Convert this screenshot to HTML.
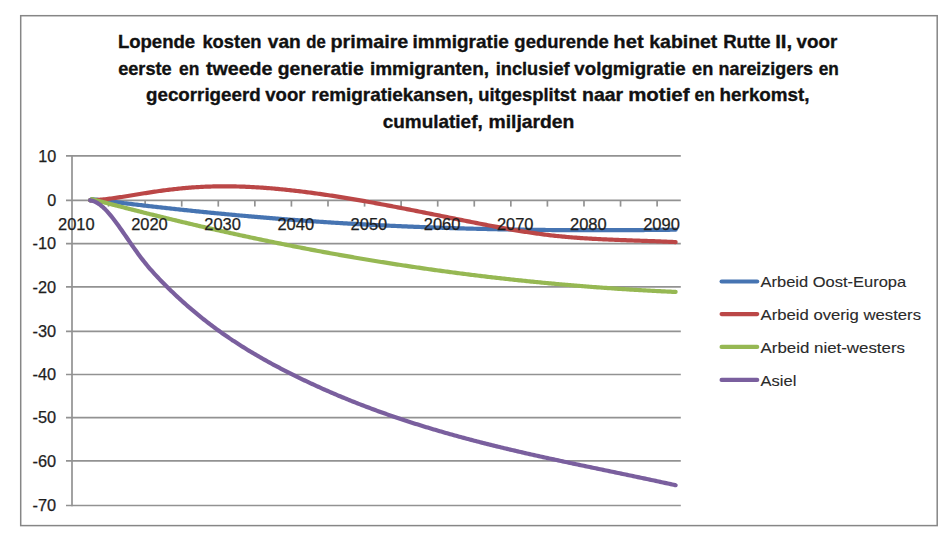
<!DOCTYPE html>
<html><head><meta charset="utf-8"><style>
html,body{margin:0;padding:0;background:#fff;width:952px;height:544px;overflow:hidden;}
svg{display:block;font-family:"Liberation Sans",sans-serif;}
</style></head><body>
<svg width="952" height="544" viewBox="0 0 952 544">
<rect x="20.7" y="15.7" width="916.5" height="509.9" fill="#fff" stroke="#868686" stroke-width="1.5"/>
<text x="117.89" y="48.2" font-family="Liberation Sans" font-weight="bold" font-size="19" fill="#111" stroke="#111" stroke-width="0.35" textLength="77.29" lengthAdjust="spacingAndGlyphs">Lopende</text>
<text x="202.4" y="48.2" font-family="Liberation Sans" font-weight="bold" font-size="19" fill="#111" stroke="#111" stroke-width="0.35" textLength="59.21" lengthAdjust="spacingAndGlyphs">kosten</text>
<text x="267.77" y="48.2" font-family="Liberation Sans" font-weight="bold" font-size="19" fill="#111" stroke="#111" stroke-width="0.35" textLength="32.97" lengthAdjust="spacingAndGlyphs">van</text>
<text x="306.37" y="48.2" font-family="Liberation Sans" font-weight="bold" font-size="19" fill="#111" stroke="#111" stroke-width="0.35" textLength="19.46" lengthAdjust="spacingAndGlyphs">de</text>
<text x="330.53" y="48.2" font-family="Liberation Sans" font-weight="bold" font-size="19" fill="#111" stroke="#111" stroke-width="0.35" textLength="77.79" lengthAdjust="spacingAndGlyphs">primaire</text>
<text x="412.57" y="48.2" font-family="Liberation Sans" font-weight="bold" font-size="19" fill="#111" stroke="#111" stroke-width="0.35" textLength="96.23" lengthAdjust="spacingAndGlyphs">immigratie</text>
<text x="514.37" y="48.2" font-family="Liberation Sans" font-weight="bold" font-size="19" fill="#111" stroke="#111" stroke-width="0.35" textLength="94.41" lengthAdjust="spacingAndGlyphs">gedurende</text>
<text x="613.31" y="48.2" font-family="Liberation Sans" font-weight="bold" font-size="19" fill="#111" stroke="#111" stroke-width="0.35" textLength="30.31" lengthAdjust="spacingAndGlyphs">het</text>
<text x="649.25" y="48.2" font-family="Liberation Sans" font-weight="bold" font-size="19" fill="#111" stroke="#111" stroke-width="0.35" textLength="68.09" lengthAdjust="spacingAndGlyphs">kabinet</text>
<text x="723.19" y="48.2" font-family="Liberation Sans" font-weight="bold" font-size="19" fill="#111" stroke="#111" stroke-width="0.35" textLength="47.49" lengthAdjust="spacingAndGlyphs">Rutte</text>
<text x="775.19" y="48.2" font-family="Liberation Sans" font-weight="bold" font-size="19" fill="#111" stroke="#111" stroke-width="0.35" textLength="17.04" lengthAdjust="spacingAndGlyphs">II,</text>
<text x="796.47" y="48.2" font-family="Liberation Sans" font-weight="bold" font-size="19" fill="#111" stroke="#111" stroke-width="0.35" textLength="40.76" lengthAdjust="spacingAndGlyphs">voor</text>
<text x="118.17" y="75.2" font-family="Liberation Sans" font-weight="bold" font-size="19" fill="#111" stroke="#111" stroke-width="0.35" textLength="53.5" lengthAdjust="spacingAndGlyphs">eerste</text>
<text x="179.07" y="75.2" font-family="Liberation Sans" font-weight="bold" font-size="19" fill="#111" stroke="#111" stroke-width="0.35" textLength="20.32" lengthAdjust="spacingAndGlyphs">en</text>
<text x="205.97" y="75.2" font-family="Liberation Sans" font-weight="bold" font-size="19" fill="#111" stroke="#111" stroke-width="0.35" textLength="66.55" lengthAdjust="spacingAndGlyphs">tweede</text>
<text x="277.77" y="75.2" font-family="Liberation Sans" font-weight="bold" font-size="19" fill="#111" stroke="#111" stroke-width="0.35" textLength="85.94" lengthAdjust="spacingAndGlyphs">generatie</text>
<text x="369.97" y="75.2" font-family="Liberation Sans" font-weight="bold" font-size="19" fill="#111" stroke="#111" stroke-width="0.35" textLength="119.04" lengthAdjust="spacingAndGlyphs">immigranten,</text>
<text x="495.71" y="75.2" font-family="Liberation Sans" font-weight="bold" font-size="19" fill="#111" stroke="#111" stroke-width="0.35" textLength="73.87" lengthAdjust="spacingAndGlyphs">inclusief</text>
<text x="574.37" y="75.2" font-family="Liberation Sans" font-weight="bold" font-size="19" fill="#111" stroke="#111" stroke-width="0.35" textLength="111.22" lengthAdjust="spacingAndGlyphs">volgmigratie</text>
<text x="692.07" y="75.2" font-family="Liberation Sans" font-weight="bold" font-size="19" fill="#111" stroke="#111" stroke-width="0.35" textLength="21.24" lengthAdjust="spacingAndGlyphs">en</text>
<text x="718.53" y="75.2" font-family="Liberation Sans" font-weight="bold" font-size="19" fill="#111" stroke="#111" stroke-width="0.35" textLength="94.54" lengthAdjust="spacingAndGlyphs">nareizigers</text>
<text x="818.77" y="75.2" font-family="Liberation Sans" font-weight="bold" font-size="19" fill="#111" stroke="#111" stroke-width="0.35" textLength="20.11" lengthAdjust="spacingAndGlyphs">en</text>
<text x="146.07" y="101.2" font-family="Liberation Sans" font-weight="bold" font-size="19" fill="#111" stroke="#111" stroke-width="0.35" textLength="114.56" lengthAdjust="spacingAndGlyphs">gecorrigeerd</text>
<text x="265.27" y="101.2" font-family="Liberation Sans" font-weight="bold" font-size="19" fill="#111" stroke="#111" stroke-width="0.35" textLength="40.27" lengthAdjust="spacingAndGlyphs">voor</text>
<text x="311.27" y="101.2" font-family="Liberation Sans" font-weight="bold" font-size="19" fill="#111" stroke="#111" stroke-width="0.35" textLength="161.93" lengthAdjust="spacingAndGlyphs">remigratiekansen,</text>
<text x="478.2" y="101.2" font-family="Liberation Sans" font-weight="bold" font-size="19" fill="#111" stroke="#111" stroke-width="0.35" textLength="97.98" lengthAdjust="spacingAndGlyphs">uitgesplitst</text>
<text x="582.04" y="101.2" font-family="Liberation Sans" font-weight="bold" font-size="19" fill="#111" stroke="#111" stroke-width="0.35" textLength="41.16" lengthAdjust="spacingAndGlyphs">naar</text>
<text x="628.19" y="101.2" font-family="Liberation Sans" font-weight="bold" font-size="19" fill="#111" stroke="#111" stroke-width="0.35" textLength="61.31" lengthAdjust="spacingAndGlyphs">motief</text>
<text x="694.57" y="101.2" font-family="Liberation Sans" font-weight="bold" font-size="19" fill="#111" stroke="#111" stroke-width="0.35" textLength="20.32" lengthAdjust="spacingAndGlyphs">en</text>
<text x="719.58" y="101.2" font-family="Liberation Sans" font-weight="bold" font-size="19" fill="#111" stroke="#111" stroke-width="0.35" textLength="90.03" lengthAdjust="spacingAndGlyphs">herkomst,</text>
<text x="382.77" y="127.8" font-family="Liberation Sans" font-weight="bold" font-size="19" fill="#111" stroke="#111" stroke-width="0.35" textLength="99.94" lengthAdjust="spacingAndGlyphs">cumulatief,</text>
<text x="488.45" y="127.8" font-family="Liberation Sans" font-weight="bold" font-size="19" fill="#111" stroke="#111" stroke-width="0.35" textLength="85.99" lengthAdjust="spacingAndGlyphs">miljarden</text>
<line x1="66" y1="155.90" x2="680.8" y2="155.90" stroke="#929292" stroke-width="1.7"/>
<line x1="66" y1="200.40" x2="680.8" y2="200.40" stroke="#929292" stroke-width="1.7"/>
<line x1="66" y1="243.70" x2="680.8" y2="243.70" stroke="#929292" stroke-width="1.7"/>
<line x1="66" y1="286.90" x2="680.8" y2="286.90" stroke="#929292" stroke-width="1.7"/>
<line x1="66" y1="331.40" x2="680.8" y2="331.40" stroke="#929292" stroke-width="1.7"/>
<line x1="66" y1="374.50" x2="680.8" y2="374.50" stroke="#929292" stroke-width="1.7"/>
<line x1="66" y1="417.70" x2="680.8" y2="417.70" stroke="#929292" stroke-width="1.7"/>
<line x1="66" y1="460.90" x2="680.8" y2="460.90" stroke="#929292" stroke-width="1.7"/>
<line x1="66" y1="505.50" x2="680.8" y2="505.50" stroke="#929292" stroke-width="1.7"/>
<line x1="72" y1="155.05" x2="72" y2="506.35" stroke="#929292" stroke-width="1.7"/>
<line x1="108.57" y1="200.40" x2="108.57" y2="206.60" stroke="#929292" stroke-width="1.7"/>
<line x1="145.14" y1="200.40" x2="145.14" y2="206.60" stroke="#929292" stroke-width="1.7"/>
<line x1="181.71" y1="200.40" x2="181.71" y2="206.60" stroke="#929292" stroke-width="1.7"/>
<line x1="218.28" y1="200.40" x2="218.28" y2="206.60" stroke="#929292" stroke-width="1.7"/>
<line x1="254.85" y1="200.40" x2="254.85" y2="206.60" stroke="#929292" stroke-width="1.7"/>
<line x1="291.42" y1="200.40" x2="291.42" y2="206.60" stroke="#929292" stroke-width="1.7"/>
<line x1="327.99" y1="200.40" x2="327.99" y2="206.60" stroke="#929292" stroke-width="1.7"/>
<line x1="364.56" y1="200.40" x2="364.56" y2="206.60" stroke="#929292" stroke-width="1.7"/>
<line x1="401.13" y1="200.40" x2="401.13" y2="206.60" stroke="#929292" stroke-width="1.7"/>
<line x1="437.70" y1="200.40" x2="437.70" y2="206.60" stroke="#929292" stroke-width="1.7"/>
<line x1="474.27" y1="200.40" x2="474.27" y2="206.60" stroke="#929292" stroke-width="1.7"/>
<line x1="510.84" y1="200.40" x2="510.84" y2="206.60" stroke="#929292" stroke-width="1.7"/>
<line x1="547.41" y1="200.40" x2="547.41" y2="206.60" stroke="#929292" stroke-width="1.7"/>
<line x1="583.98" y1="200.40" x2="583.98" y2="206.60" stroke="#929292" stroke-width="1.7"/>
<line x1="620.55" y1="200.40" x2="620.55" y2="206.60" stroke="#929292" stroke-width="1.7"/>
<line x1="657.12" y1="200.40" x2="657.12" y2="206.60" stroke="#929292" stroke-width="1.7"/>
<text x="56.2" y="161.65" text-anchor="end" font-family="Liberation Sans" font-size="15.6" fill="#1e1e1e" stroke="#1e1e1e" stroke-width="0.25" textLength="18.00" lengthAdjust="spacingAndGlyphs">10</text>
<text x="56.2" y="206.15" text-anchor="end" font-family="Liberation Sans" font-size="15.6" fill="#1e1e1e" stroke="#1e1e1e" stroke-width="0.25" textLength="9.00" lengthAdjust="spacingAndGlyphs">0</text>
<text x="56.2" y="249.45" text-anchor="end" font-family="Liberation Sans" font-size="15.6" fill="#1e1e1e" stroke="#1e1e1e" stroke-width="0.25" textLength="23.60" lengthAdjust="spacingAndGlyphs">-10</text>
<text x="56.2" y="292.65" text-anchor="end" font-family="Liberation Sans" font-size="15.6" fill="#1e1e1e" stroke="#1e1e1e" stroke-width="0.25" textLength="23.60" lengthAdjust="spacingAndGlyphs">-20</text>
<text x="56.2" y="337.15" text-anchor="end" font-family="Liberation Sans" font-size="15.6" fill="#1e1e1e" stroke="#1e1e1e" stroke-width="0.25" textLength="23.60" lengthAdjust="spacingAndGlyphs">-30</text>
<text x="56.2" y="380.25" text-anchor="end" font-family="Liberation Sans" font-size="15.6" fill="#1e1e1e" stroke="#1e1e1e" stroke-width="0.25" textLength="23.60" lengthAdjust="spacingAndGlyphs">-40</text>
<text x="56.2" y="423.45" text-anchor="end" font-family="Liberation Sans" font-size="15.6" fill="#1e1e1e" stroke="#1e1e1e" stroke-width="0.25" textLength="23.60" lengthAdjust="spacingAndGlyphs">-50</text>
<text x="56.2" y="466.65" text-anchor="end" font-family="Liberation Sans" font-size="15.6" fill="#1e1e1e" stroke="#1e1e1e" stroke-width="0.25" textLength="23.60" lengthAdjust="spacingAndGlyphs">-60</text>
<text x="56.2" y="511.25" text-anchor="end" font-family="Liberation Sans" font-size="15.6" fill="#1e1e1e" stroke="#1e1e1e" stroke-width="0.25" textLength="23.60" lengthAdjust="spacingAndGlyphs">-70</text>
<path d="M90.2,200.20 L91.7,199.11 L93.2,199.30 L94.7,199.49 L96.2,199.68 L97.7,199.88 L99.2,200.07 L100.7,200.26 L102.2,200.45 L103.7,200.64 L105.2,200.83 L106.7,201.01 L108.2,201.20 L109.7,201.39 L111.2,201.58 L112.7,201.76 L114.2,201.95 L115.7,202.13 L117.2,202.32 L118.7,202.50 L120.2,202.69 L121.7,202.87 L123.2,203.05 L124.7,203.23 L126.2,203.41 L127.7,203.59 L129.2,203.77 L130.7,203.95 L132.2,204.13 L133.7,204.31 L135.2,204.49 L136.7,204.67 L138.2,204.84 L139.7,205.02 L141.2,205.20 L142.7,205.37 L144.2,205.55 L145.7,205.72 L147.2,205.89 L148.7,206.07 L150.2,206.24 L151.7,206.41 L153.2,206.58 L154.7,206.75 L156.2,206.92 L157.7,207.09 L159.2,207.26 L160.7,207.43 L162.2,207.60 L163.7,207.76 L165.2,207.93 L166.7,208.10 L168.2,208.26 L169.7,208.43 L171.2,208.59 L172.7,208.75 L174.2,208.92 L175.7,209.08 L177.2,209.24 L178.7,209.40 L180.2,209.56 L181.7,209.72 L183.2,209.88 L184.7,210.04 L186.2,210.20 L187.7,210.36 L189.2,210.52 L190.7,210.67 L192.2,210.83 L193.7,210.98 L195.2,211.14 L196.7,211.29 L198.2,211.45 L199.7,211.60 L201.2,211.75 L202.7,211.90 L204.2,212.05 L205.7,212.20 L207.2,212.35 L208.7,212.50 L210.2,212.65 L211.7,212.80 L213.2,212.95 L214.7,213.09 L216.2,213.24 L217.7,213.38 L219.2,213.53 L220.7,213.67 L222.2,213.82 L223.7,213.96 L225.2,214.10 L226.7,214.24 L228.2,214.39 L229.7,214.53 L231.2,214.67 L232.7,214.81 L234.2,214.94 L235.7,215.08 L237.2,215.22 L238.7,215.36 L240.2,215.49 L241.7,215.63 L243.2,215.76 L244.7,215.90 L246.2,216.03 L247.7,216.16 L249.2,216.29 L250.7,216.43 L252.2,216.56 L253.7,216.69 L255.2,216.82 L256.7,216.95 L258.2,217.07 L259.7,217.20 L261.2,217.33 L262.7,217.45 L264.2,217.58 L265.7,217.71 L267.2,217.83 L268.7,217.95 L270.2,218.08 L271.7,218.20 L273.2,218.32 L274.7,218.44 L276.2,218.56 L277.7,218.68 L279.2,218.80 L280.7,218.92 L282.2,219.04 L283.7,219.15 L285.2,219.27 L286.7,219.39 L288.2,219.50 L289.7,219.62 L291.2,219.73 L292.7,219.84 L294.2,219.95 L295.7,220.07 L297.2,220.18 L298.7,220.29 L300.2,220.40 L301.7,220.51 L303.2,220.61 L304.7,220.72 L306.2,220.83 L307.7,220.93 L309.2,221.04 L310.7,221.14 L312.2,221.25 L313.7,221.35 L315.2,221.45 L316.7,221.56 L318.2,221.66 L319.7,221.76 L321.2,221.86 L322.7,221.96 L324.2,222.06 L325.7,222.15 L327.2,222.25 L328.7,222.35 L330.2,222.44 L331.7,222.54 L333.2,222.63 L334.7,222.73 L336.2,222.82 L337.7,222.91 L339.2,223.00 L340.7,223.10 L342.2,223.19 L343.7,223.28 L345.2,223.37 L346.7,223.45 L348.2,223.54 L349.7,223.63 L351.2,223.72 L352.7,223.80 L354.2,223.89 L355.7,223.97 L357.2,224.06 L358.7,224.14 L360.2,224.22 L361.7,224.30 L363.2,224.38 L364.7,224.47 L366.2,224.55 L367.7,224.62 L369.2,224.70 L370.7,224.78 L372.2,224.86 L373.7,224.94 L375.2,225.01 L376.7,225.09 L378.2,225.16 L379.7,225.24 L381.2,225.31 L382.7,225.39 L384.2,225.46 L385.7,225.53 L387.2,225.60 L388.7,225.67 L390.2,225.74 L391.7,225.81 L393.2,225.88 L394.7,225.95 L396.2,226.02 L397.7,226.08 L399.2,226.15 L400.7,226.22 L402.2,226.28 L403.7,226.35 L405.2,226.41 L406.7,226.47 L408.2,226.54 L409.7,226.60 L411.2,226.66 L412.7,226.72 L414.2,226.78 L415.7,226.84 L417.2,226.90 L418.7,226.96 L420.2,227.02 L421.7,227.08 L423.2,227.13 L424.7,227.19 L426.2,227.24 L427.7,227.30 L429.2,227.35 L430.7,227.41 L432.2,227.46 L433.7,227.52 L435.2,227.57 L436.7,227.62 L438.2,227.67 L439.7,227.72 L441.2,227.77 L442.7,227.82 L444.2,227.87 L445.7,227.92 L447.2,227.97 L448.7,228.01 L450.2,228.06 L451.7,228.11 L453.2,228.15 L454.7,228.20 L456.2,228.24 L457.7,228.29 L459.2,228.33 L460.7,228.37 L462.2,228.42 L463.7,228.46 L465.2,228.50 L466.7,228.54 L468.2,228.58 L469.7,228.62 L471.2,228.66 L472.7,228.70 L474.2,228.74 L475.7,228.77 L477.2,228.81 L478.7,228.85 L480.2,228.88 L481.7,228.92 L483.2,228.95 L484.7,228.99 L486.2,229.02 L487.7,229.06 L489.2,229.09 L490.7,229.12 L492.2,229.15 L493.7,229.19 L495.2,229.22 L496.7,229.25 L498.2,229.28 L499.7,229.31 L501.2,229.34 L502.7,229.36 L504.2,229.39 L505.7,229.42 L507.2,229.45 L508.7,229.47 L510.2,229.50 L511.7,229.52 L513.2,229.55 L514.7,229.57 L516.2,229.60 L517.7,229.62 L519.2,229.64 L520.7,229.67 L522.2,229.69 L523.7,229.71 L525.2,229.73 L526.7,229.75 L528.2,229.77 L529.7,229.79 L531.2,229.81 L532.7,229.83 L534.2,229.85 L535.7,229.87 L537.2,229.88 L538.7,229.90 L540.2,229.92 L541.7,229.93 L543.2,229.95 L544.7,229.96 L546.2,229.98 L547.7,229.99 L549.2,230.01 L550.7,230.02 L552.2,230.03 L553.7,230.05 L555.2,230.06 L556.7,230.07 L558.2,230.08 L559.7,230.09 L561.2,230.10 L562.7,230.11 L564.2,230.12 L565.7,230.13 L567.2,230.14 L568.7,230.15 L570.2,230.15 L571.7,230.16 L573.2,230.17 L574.7,230.17 L576.2,230.18 L577.7,230.18 L579.2,230.19 L580.7,230.19 L582.2,230.20 L583.7,230.20 L585.2,230.21 L586.7,230.21 L588.2,230.21 L589.7,230.21 L591.2,230.21 L592.7,230.22 L594.2,230.22 L595.7,230.22 L597.2,230.22 L598.7,230.22 L600.2,230.22 L601.7,230.22 L603.2,230.21 L604.7,230.21 L606.2,230.21 L607.7,230.21 L609.2,230.20 L610.7,230.20 L612.2,230.20 L613.7,230.19 L615.2,230.19 L616.7,230.18 L618.2,230.18 L619.7,230.17 L621.2,230.17 L622.7,230.16 L624.2,230.15 L625.7,230.15 L627.2,230.14 L628.7,230.13 L630.2,230.12 L631.7,230.11 L633.2,230.10 L634.7,230.09 L636.2,230.08 L637.7,230.07 L639.2,230.06 L640.7,230.05 L642.2,230.04 L643.7,230.03 L645.2,230.02 L646.7,230.01 L648.2,229.99 L649.7,229.98 L651.2,229.97 L652.7,229.95 L654.2,229.94 L655.7,229.92 L657.2,229.91 L658.7,229.89 L660.2,229.88 L661.7,229.86 L663.2,229.85 L664.7,229.83 L666.2,229.81 L667.7,229.80 L669.2,229.78 L670.7,229.76 L672.2,229.74 L673.7,229.73 L675.2,229.71 L675.6,229.70" fill="none" stroke="#4674b2" stroke-width="4.2" stroke-linecap="round" stroke-linejoin="round"/>
<path d="M90.2,200.20 L91.7,200.38 L93.2,200.29 L94.7,200.19 L96.2,200.08 L97.7,199.96 L99.2,199.83 L100.7,199.70 L102.2,199.55 L103.7,199.39 L105.2,199.22 L106.7,199.05 L108.2,198.87 L109.7,198.68 L111.2,198.49 L112.7,198.29 L114.2,198.08 L115.7,197.87 L117.2,197.65 L118.7,197.43 L120.2,197.20 L121.7,196.97 L123.2,196.74 L124.7,196.50 L126.2,196.26 L127.7,196.02 L129.2,195.77 L130.7,195.52 L132.2,195.28 L133.7,195.03 L135.2,194.78 L136.7,194.53 L138.2,194.28 L139.7,194.04 L141.2,193.79 L142.7,193.55 L144.2,193.30 L145.7,193.06 L147.2,192.82 L148.7,192.59 L150.2,192.36 L151.7,192.13 L153.2,191.90 L154.7,191.68 L156.2,191.46 L157.7,191.25 L159.2,191.04 L160.7,190.83 L162.2,190.62 L163.7,190.42 L165.2,190.23 L166.7,190.03 L168.2,189.84 L169.7,189.66 L171.2,189.48 L172.7,189.30 L174.2,189.13 L175.7,188.97 L177.2,188.80 L178.7,188.65 L180.2,188.49 L181.7,188.34 L183.2,188.20 L184.7,188.06 L186.2,187.93 L187.7,187.80 L189.2,187.68 L190.7,187.56 L192.2,187.45 L193.7,187.35 L195.2,187.25 L196.7,187.15 L198.2,187.06 L199.7,186.98 L201.2,186.90 L202.7,186.83 L204.2,186.76 L205.7,186.69 L207.2,186.64 L208.7,186.58 L210.2,186.53 L211.7,186.49 L213.2,186.45 L214.7,186.42 L216.2,186.39 L217.7,186.37 L219.2,186.35 L220.7,186.33 L222.2,186.32 L223.7,186.32 L225.2,186.32 L226.7,186.32 L228.2,186.33 L229.7,186.35 L231.2,186.37 L232.7,186.39 L234.2,186.42 L235.7,186.45 L237.2,186.48 L238.7,186.52 L240.2,186.57 L241.7,186.61 L243.2,186.67 L244.7,186.72 L246.2,186.78 L247.7,186.85 L249.2,186.92 L250.7,186.99 L252.2,187.07 L253.7,187.15 L255.2,187.23 L256.7,187.32 L258.2,187.41 L259.7,187.51 L261.2,187.61 L262.7,187.71 L264.2,187.82 L265.7,187.93 L267.2,188.04 L268.7,188.16 L270.2,188.28 L271.7,188.40 L273.2,188.53 L274.7,188.66 L276.2,188.79 L277.7,188.93 L279.2,189.07 L280.7,189.22 L282.2,189.36 L283.7,189.51 L285.2,189.67 L286.7,189.82 L288.2,189.98 L289.7,190.14 L291.2,190.31 L292.7,190.47 L294.2,190.64 L295.7,190.82 L297.2,190.99 L298.7,191.17 L300.2,191.35 L301.7,191.54 L303.2,191.72 L304.7,191.91 L306.2,192.10 L307.7,192.30 L309.2,192.49 L310.7,192.69 L312.2,192.89 L313.7,193.10 L315.2,193.30 L316.7,193.51 L318.2,193.72 L319.7,193.93 L321.2,194.15 L322.7,194.36 L324.2,194.58 L325.7,194.80 L327.2,195.02 L328.7,195.25 L330.2,195.48 L331.7,195.70 L333.2,195.93 L334.7,196.17 L336.2,196.40 L337.7,196.64 L339.2,196.88 L340.7,197.12 L342.2,197.36 L343.7,197.60 L345.2,197.85 L346.7,198.09 L348.2,198.34 L349.7,198.59 L351.2,198.85 L352.7,199.10 L354.2,199.36 L355.7,199.61 L357.2,199.87 L358.7,200.13 L360.2,200.39 L361.7,200.65 L363.2,200.92 L364.7,201.18 L366.2,201.45 L367.7,201.72 L369.2,201.99 L370.7,202.26 L372.2,202.53 L373.7,202.81 L375.2,203.08 L376.7,203.36 L378.2,203.63 L379.7,203.91 L381.2,204.19 L382.7,204.47 L384.2,204.75 L385.7,205.04 L387.2,205.32 L388.7,205.60 L390.2,205.89 L391.7,206.18 L393.2,206.46 L394.7,206.75 L396.2,207.04 L397.7,207.33 L399.2,207.62 L400.7,207.91 L402.2,208.20 L403.7,208.50 L405.2,208.79 L406.7,209.08 L408.2,209.38 L409.7,209.67 L411.2,209.97 L412.7,210.27 L414.2,210.56 L415.7,210.86 L417.2,211.16 L418.7,211.46 L420.2,211.76 L421.7,212.05 L423.2,212.35 L424.7,212.65 L426.2,212.95 L427.7,213.25 L429.2,213.55 L430.7,213.86 L432.2,214.16 L433.7,214.46 L435.2,214.76 L436.7,215.06 L438.2,215.36 L439.7,215.66 L441.2,215.97 L442.7,216.27 L444.2,216.57 L445.7,216.87 L447.2,217.17 L448.7,217.47 L450.2,217.78 L451.7,218.08 L453.2,218.38 L454.7,218.68 L456.2,218.98 L457.7,219.28 L459.2,219.58 L460.7,219.88 L462.2,220.18 L463.7,220.48 L465.2,220.78 L466.7,221.08 L468.2,221.37 L469.7,221.67 L471.2,221.97 L472.7,222.26 L474.2,222.56 L475.7,222.86 L477.2,223.15 L478.7,223.44 L480.2,223.74 L481.7,224.03 L483.2,224.32 L484.7,224.61 L486.2,224.90 L487.7,225.19 L489.2,225.48 L490.7,225.76 L492.2,226.05 L493.7,226.33 L495.2,226.61 L496.7,226.89 L498.2,227.17 L499.7,227.44 L501.2,227.72 L502.7,227.99 L504.2,228.26 L505.7,228.53 L507.2,228.80 L508.7,229.06 L510.2,229.32 L511.7,229.58 L513.2,229.84 L514.7,230.10 L516.2,230.35 L517.7,230.60 L519.2,230.85 L520.7,231.09 L522.2,231.33 L523.7,231.57 L525.2,231.81 L526.7,232.04 L528.2,232.27 L529.7,232.50 L531.2,232.72 L532.7,232.94 L534.2,233.16 L535.7,233.37 L537.2,233.58 L538.7,233.79 L540.2,233.99 L541.7,234.19 L543.2,234.39 L544.7,234.58 L546.2,234.77 L547.7,234.95 L549.2,235.13 L550.7,235.31 L552.2,235.48 L553.7,235.64 L555.2,235.81 L556.7,235.97 L558.2,236.12 L559.7,236.27 L561.2,236.42 L562.7,236.57 L564.2,236.71 L565.7,236.84 L567.2,236.98 L568.7,237.11 L570.2,237.23 L571.7,237.36 L573.2,237.48 L574.7,237.59 L576.2,237.71 L577.7,237.82 L579.2,237.93 L580.7,238.03 L582.2,238.13 L583.7,238.23 L585.2,238.33 L586.7,238.42 L588.2,238.52 L589.7,238.61 L591.2,238.69 L592.7,238.78 L594.2,238.86 L595.7,238.94 L597.2,239.02 L598.7,239.10 L600.2,239.17 L601.7,239.25 L603.2,239.32 L604.7,239.39 L606.2,239.45 L607.7,239.52 L609.2,239.59 L610.7,239.65 L612.2,239.71 L613.7,239.77 L615.2,239.83 L616.7,239.89 L618.2,239.95 L619.7,240.00 L621.2,240.06 L622.7,240.12 L624.2,240.17 L625.7,240.22 L627.2,240.28 L628.7,240.33 L630.2,240.38 L631.7,240.43 L633.2,240.48 L634.7,240.53 L636.2,240.58 L637.7,240.63 L639.2,240.68 L640.7,240.74 L642.2,240.79 L643.7,240.84 L645.2,240.89 L646.7,240.94 L648.2,240.99 L649.7,241.04 L651.2,241.10 L652.7,241.15 L654.2,241.20 L655.7,241.26 L657.2,241.31 L658.7,241.37 L660.2,241.43 L661.7,241.49 L663.2,241.55 L664.7,241.61 L666.2,241.67 L667.7,241.73 L669.2,241.80 L670.7,241.86 L672.2,241.93 L673.7,242.00 L675.2,242.07 L675.6,242.09" fill="none" stroke="#bb4747" stroke-width="4.2" stroke-linecap="round" stroke-linejoin="round"/>
<path d="M90.2,200.20 L91.7,199.06 L93.2,199.46 L94.7,199.86 L96.2,200.26 L97.7,200.66 L99.2,201.06 L100.7,201.46 L102.2,201.85 L103.7,202.25 L105.2,202.64 L106.7,203.04 L108.2,203.43 L109.7,203.82 L111.2,204.22 L112.7,204.61 L114.2,205.00 L115.7,205.39 L117.2,205.78 L118.7,206.17 L120.2,206.56 L121.7,206.94 L123.2,207.33 L124.7,207.72 L126.2,208.10 L127.7,208.49 L129.2,208.87 L130.7,209.25 L132.2,209.63 L133.7,210.02 L135.2,210.40 L136.7,210.78 L138.2,211.16 L139.7,211.54 L141.2,211.91 L142.7,212.29 L144.2,212.67 L145.7,213.04 L147.2,213.42 L148.7,213.79 L150.2,214.17 L151.7,214.54 L153.2,214.91 L154.7,215.28 L156.2,215.66 L157.7,216.03 L159.2,216.39 L160.7,216.76 L162.2,217.13 L163.7,217.50 L165.2,217.86 L166.7,218.23 L168.2,218.59 L169.7,218.96 L171.2,219.32 L172.7,219.68 L174.2,220.05 L175.7,220.41 L177.2,220.77 L178.7,221.13 L180.2,221.49 L181.7,221.84 L183.2,222.20 L184.7,222.56 L186.2,222.91 L187.7,223.27 L189.2,223.62 L190.7,223.97 L192.2,224.33 L193.7,224.68 L195.2,225.03 L196.7,225.38 L198.2,225.73 L199.7,226.08 L201.2,226.43 L202.7,226.77 L204.2,227.12 L205.7,227.46 L207.2,227.81 L208.7,228.15 L210.2,228.50 L211.7,228.84 L213.2,229.18 L214.7,229.52 L216.2,229.86 L217.7,230.20 L219.2,230.54 L220.7,230.87 L222.2,231.21 L223.7,231.55 L225.2,231.88 L226.7,232.22 L228.2,232.55 L229.7,232.88 L231.2,233.21 L232.7,233.54 L234.2,233.87 L235.7,234.20 L237.2,234.53 L238.7,234.86 L240.2,235.19 L241.7,235.51 L243.2,235.84 L244.7,236.16 L246.2,236.48 L247.7,236.81 L249.2,237.13 L250.7,237.45 L252.2,237.77 L253.7,238.09 L255.2,238.41 L256.7,238.72 L258.2,239.04 L259.7,239.36 L261.2,239.67 L262.7,239.98 L264.2,240.30 L265.7,240.61 L267.2,240.92 L268.7,241.23 L270.2,241.54 L271.7,241.85 L273.2,242.16 L274.7,242.46 L276.2,242.77 L277.7,243.08 L279.2,243.38 L280.7,243.68 L282.2,243.99 L283.7,244.29 L285.2,244.59 L286.7,244.89 L288.2,245.19 L289.7,245.49 L291.2,245.78 L292.7,246.08 L294.2,246.38 L295.7,246.67 L297.2,246.96 L298.7,247.26 L300.2,247.55 L301.7,247.84 L303.2,248.13 L304.7,248.42 L306.2,248.71 L307.7,249.00 L309.2,249.28 L310.7,249.57 L312.2,249.85 L313.7,250.14 L315.2,250.42 L316.7,250.70 L318.2,250.98 L319.7,251.26 L321.2,251.54 L322.7,251.82 L324.2,252.10 L325.7,252.37 L327.2,252.65 L328.7,252.92 L330.2,253.20 L331.7,253.47 L333.2,253.74 L334.7,254.01 L336.2,254.28 L337.7,254.55 L339.2,254.82 L340.7,255.09 L342.2,255.35 L343.7,255.62 L345.2,255.88 L346.7,256.14 L348.2,256.41 L349.7,256.67 L351.2,256.93 L352.7,257.19 L354.2,257.45 L355.7,257.71 L357.2,257.96 L358.7,258.22 L360.2,258.47 L361.7,258.73 L363.2,258.98 L364.7,259.23 L366.2,259.48 L367.7,259.73 L369.2,259.98 L370.7,260.23 L372.2,260.48 L373.7,260.73 L375.2,260.97 L376.7,261.22 L378.2,261.46 L379.7,261.70 L381.2,261.95 L382.7,262.19 L384.2,262.43 L385.7,262.67 L387.2,262.91 L388.7,263.14 L390.2,263.38 L391.7,263.62 L393.2,263.85 L394.7,264.08 L396.2,264.32 L397.7,264.55 L399.2,264.78 L400.7,265.01 L402.2,265.24 L403.7,265.47 L405.2,265.69 L406.7,265.92 L408.2,266.15 L409.7,266.37 L411.2,266.59 L412.7,266.82 L414.2,267.04 L415.7,267.26 L417.2,267.48 L418.7,267.70 L420.2,267.92 L421.7,268.13 L423.2,268.35 L424.7,268.57 L426.2,268.78 L427.7,268.99 L429.2,269.21 L430.7,269.42 L432.2,269.63 L433.7,269.84 L435.2,270.05 L436.7,270.26 L438.2,270.46 L439.7,270.67 L441.2,270.88 L442.7,271.08 L444.2,271.28 L445.7,271.49 L447.2,271.69 L448.7,271.89 L450.2,272.09 L451.7,272.29 L453.2,272.49 L454.7,272.68 L456.2,272.88 L457.7,273.08 L459.2,273.27 L460.7,273.46 L462.2,273.66 L463.7,273.85 L465.2,274.04 L466.7,274.23 L468.2,274.42 L469.7,274.61 L471.2,274.79 L472.7,274.98 L474.2,275.16 L475.7,275.35 L477.2,275.53 L478.7,275.72 L480.2,275.90 L481.7,276.08 L483.2,276.26 L484.7,276.44 L486.2,276.62 L487.7,276.79 L489.2,276.97 L490.7,277.14 L492.2,277.32 L493.7,277.49 L495.2,277.67 L496.7,277.84 L498.2,278.01 L499.7,278.18 L501.2,278.35 L502.7,278.52 L504.2,278.68 L505.7,278.85 L507.2,279.01 L508.7,279.18 L510.2,279.34 L511.7,279.51 L513.2,279.67 L514.7,279.83 L516.2,279.99 L517.7,280.15 L519.2,280.31 L520.7,280.46 L522.2,280.62 L523.7,280.78 L525.2,280.93 L526.7,281.08 L528.2,281.24 L529.7,281.39 L531.2,281.54 L532.7,281.69 L534.2,281.84 L535.7,281.99 L537.2,282.14 L538.7,282.28 L540.2,282.43 L541.7,282.57 L543.2,282.72 L544.7,282.86 L546.2,283.00 L547.7,283.14 L549.2,283.29 L550.7,283.42 L552.2,283.56 L553.7,283.70 L555.2,283.84 L556.7,283.97 L558.2,284.11 L559.7,284.24 L561.2,284.38 L562.7,284.51 L564.2,284.64 L565.7,284.77 L567.2,284.90 L568.7,285.03 L570.2,285.16 L571.7,285.28 L573.2,285.41 L574.7,285.54 L576.2,285.66 L577.7,285.78 L579.2,285.91 L580.7,286.03 L582.2,286.15 L583.7,286.27 L585.2,286.39 L586.7,286.51 L588.2,286.62 L589.7,286.74 L591.2,286.86 L592.7,286.97 L594.2,287.08 L595.7,287.20 L597.2,287.31 L598.7,287.42 L600.2,287.53 L601.7,287.64 L603.2,287.75 L604.7,287.86 L606.2,287.96 L607.7,288.07 L609.2,288.17 L610.7,288.28 L612.2,288.38 L613.7,288.48 L615.2,288.58 L616.7,288.69 L618.2,288.78 L619.7,288.88 L621.2,288.98 L622.7,289.08 L624.2,289.17 L625.7,289.27 L627.2,289.36 L628.7,289.46 L630.2,289.55 L631.7,289.64 L633.2,289.73 L634.7,289.82 L636.2,289.91 L637.7,290.00 L639.2,290.09 L640.7,290.17 L642.2,290.26 L643.7,290.34 L645.2,290.43 L646.7,290.51 L648.2,290.59 L649.7,290.68 L651.2,290.76 L652.7,290.83 L654.2,290.91 L655.7,290.99 L657.2,291.07 L658.7,291.14 L660.2,291.22 L661.7,291.29 L663.2,291.37 L664.7,291.44 L666.2,291.51 L667.7,291.58 L669.2,291.65 L670.7,291.72 L672.2,291.79 L673.7,291.86 L675.2,291.92 L675.6,291.94" fill="none" stroke="#96b853" stroke-width="4.2" stroke-linecap="round" stroke-linejoin="round"/>
<path d="M90.2,200.20 L91.7,200.65 L93.2,201.05 L94.7,201.61 L96.2,202.32 L97.7,203.18 L99.2,204.17 L100.7,205.29 L102.2,206.54 L103.7,207.89 L105.2,209.35 L106.7,210.92 L108.2,212.57 L109.7,214.30 L111.2,216.12 L112.7,218.00 L114.2,219.94 L115.7,221.94 L117.2,223.98 L118.7,226.06 L120.2,228.18 L121.7,230.32 L123.2,232.47 L124.7,234.64 L126.2,236.81 L127.7,238.99 L129.2,241.16 L130.7,243.33 L132.2,245.48 L133.7,247.63 L135.2,249.75 L136.7,251.84 L138.2,253.91 L139.7,255.94 L141.2,257.94 L142.7,259.89 L144.2,261.80 L145.7,263.67 L147.2,265.49 L148.7,267.28 L150.2,269.02 L151.7,270.73 L153.2,272.41 L154.7,274.06 L156.2,275.69 L157.7,277.29 L159.2,278.86 L160.7,280.42 L162.2,281.96 L163.7,283.49 L165.2,285.00 L166.7,286.50 L168.2,287.98 L169.7,289.45 L171.2,290.91 L172.7,292.35 L174.2,293.78 L175.7,295.20 L177.2,296.60 L178.7,298.00 L180.2,299.37 L181.7,300.74 L183.2,302.09 L184.7,303.43 L186.2,304.76 L187.7,306.07 L189.2,307.37 L190.7,308.66 L192.2,309.94 L193.7,311.21 L195.2,312.46 L196.7,313.71 L198.2,314.94 L199.7,316.16 L201.2,317.37 L202.7,318.57 L204.2,319.75 L205.7,320.93 L207.2,322.10 L208.7,323.25 L210.2,324.39 L211.7,325.53 L213.2,326.65 L214.7,327.77 L216.2,328.87 L217.7,329.96 L219.2,331.05 L220.7,332.12 L222.2,333.18 L223.7,334.24 L225.2,335.28 L226.7,336.32 L228.2,337.35 L229.7,338.37 L231.2,339.38 L232.7,340.38 L234.2,341.37 L235.7,342.35 L237.2,343.33 L238.7,344.30 L240.2,345.25 L241.7,346.21 L243.2,347.15 L244.7,348.08 L246.2,349.01 L247.7,349.93 L249.2,350.84 L250.7,351.75 L252.2,352.65 L253.7,353.54 L255.2,354.42 L256.7,355.30 L258.2,356.17 L259.7,357.04 L261.2,357.89 L262.7,358.75 L264.2,359.59 L265.7,360.43 L267.2,361.26 L268.7,362.09 L270.2,362.91 L271.7,363.73 L273.2,364.54 L274.7,365.35 L276.2,366.15 L277.7,366.94 L279.2,367.73 L280.7,368.52 L282.2,369.30 L283.7,370.07 L285.2,370.84 L286.7,371.61 L288.2,372.37 L289.7,373.13 L291.2,373.89 L292.7,374.64 L294.2,375.38 L295.7,376.12 L297.2,376.86 L298.7,377.60 L300.2,378.33 L301.7,379.05 L303.2,379.77 L304.7,380.49 L306.2,381.20 L307.7,381.91 L309.2,382.62 L310.7,383.32 L312.2,384.02 L313.7,384.71 L315.2,385.40 L316.7,386.09 L318.2,386.77 L319.7,387.45 L321.2,388.13 L322.7,388.80 L324.2,389.46 L325.7,390.13 L327.2,390.79 L328.7,391.44 L330.2,392.10 L331.7,392.75 L333.2,393.39 L334.7,394.03 L336.2,394.67 L337.7,395.31 L339.2,395.94 L340.7,396.56 L342.2,397.19 L343.7,397.81 L345.2,398.43 L346.7,399.04 L348.2,399.65 L349.7,400.26 L351.2,400.86 L352.7,401.46 L354.2,402.06 L355.7,402.65 L357.2,403.24 L358.7,403.83 L360.2,404.41 L361.7,404.99 L363.2,405.57 L364.7,406.14 L366.2,406.71 L367.7,407.28 L369.2,407.84 L370.7,408.40 L372.2,408.96 L373.7,409.52 L375.2,410.07 L376.7,410.62 L378.2,411.16 L379.7,411.71 L381.2,412.25 L382.7,412.78 L384.2,413.32 L385.7,413.85 L387.2,414.38 L388.7,414.90 L390.2,415.42 L391.7,415.94 L393.2,416.46 L394.7,416.97 L396.2,417.48 L397.7,417.99 L399.2,418.50 L400.7,419.00 L402.2,419.50 L403.7,420.00 L405.2,420.49 L406.7,420.98 L408.2,421.47 L409.7,421.96 L411.2,422.44 L412.7,422.92 L414.2,423.40 L415.7,423.88 L417.2,424.35 L418.7,424.82 L420.2,425.29 L421.7,425.76 L423.2,426.22 L424.7,426.68 L426.2,427.14 L427.7,427.60 L429.2,428.05 L430.7,428.50 L432.2,428.95 L433.7,429.40 L435.2,429.85 L436.7,430.29 L438.2,430.73 L439.7,431.17 L441.2,431.60 L442.7,432.04 L444.2,432.47 L445.7,432.90 L447.2,433.32 L448.7,433.75 L450.2,434.17 L451.7,434.59 L453.2,435.01 L454.7,435.43 L456.2,435.84 L457.7,436.26 L459.2,436.67 L460.7,437.08 L462.2,437.48 L463.7,437.89 L465.2,438.29 L466.7,438.69 L468.2,439.09 L469.7,439.49 L471.2,439.89 L472.7,440.28 L474.2,440.67 L475.7,441.06 L477.2,441.45 L478.7,441.84 L480.2,442.22 L481.7,442.61 L483.2,442.99 L484.7,443.37 L486.2,443.75 L487.7,444.12 L489.2,444.50 L490.7,444.87 L492.2,445.25 L493.7,445.62 L495.2,445.99 L496.7,446.35 L498.2,446.72 L499.7,447.08 L501.2,447.45 L502.7,447.81 L504.2,448.17 L505.7,448.53 L507.2,448.89 L508.7,449.24 L510.2,449.60 L511.7,449.95 L513.2,450.31 L514.7,450.66 L516.2,451.01 L517.7,451.36 L519.2,451.70 L520.7,452.05 L522.2,452.40 L523.7,452.74 L525.2,453.08 L526.7,453.43 L528.2,453.77 L529.7,454.11 L531.2,454.45 L532.7,454.78 L534.2,455.12 L535.7,455.46 L537.2,455.79 L538.7,456.13 L540.2,456.46 L541.7,456.79 L543.2,457.12 L544.7,457.45 L546.2,457.78 L547.7,458.11 L549.2,458.44 L550.7,458.77 L552.2,459.09 L553.7,459.42 L555.2,459.74 L556.7,460.07 L558.2,460.39 L559.7,460.71 L561.2,461.04 L562.7,461.36 L564.2,461.68 L565.7,462.00 L567.2,462.32 L568.7,462.64 L570.2,462.96 L571.7,463.28 L573.2,463.59 L574.7,463.91 L576.2,464.23 L577.7,464.54 L579.2,464.86 L580.7,465.18 L582.2,465.49 L583.7,465.81 L585.2,466.12 L586.7,466.44 L588.2,466.75 L589.7,467.06 L591.2,467.38 L592.7,467.69 L594.2,468.00 L595.7,468.32 L597.2,468.63 L598.7,468.94 L600.2,469.25 L601.7,469.57 L603.2,469.88 L604.7,470.19 L606.2,470.50 L607.7,470.81 L609.2,471.13 L610.7,471.44 L612.2,471.75 L613.7,472.06 L615.2,472.37 L616.7,472.69 L618.2,473.00 L619.7,473.31 L621.2,473.62 L622.7,473.94 L624.2,474.25 L625.7,474.56 L627.2,474.87 L628.7,475.19 L630.2,475.50 L631.7,475.82 L633.2,476.13 L634.7,476.44 L636.2,476.76 L637.7,477.07 L639.2,477.39 L640.7,477.71 L642.2,478.02 L643.7,478.34 L645.2,478.66 L646.7,478.98 L648.2,479.29 L649.7,479.61 L651.2,479.93 L652.7,480.25 L654.2,480.57 L655.7,480.89 L657.2,481.21 L658.7,481.54 L660.2,481.86 L661.7,482.18 L663.2,482.51 L664.7,482.83 L666.2,483.16 L667.7,483.49 L669.2,483.81 L670.7,484.14 L672.2,484.47 L673.7,484.80 L675.2,485.13 L675.6,485.22" fill="none" stroke="#7a5f9e" stroke-width="4.2" stroke-linecap="round" stroke-linejoin="round"/>
<text x="76.30" y="229.9" text-anchor="middle" font-family="Liberation Sans" font-size="16" fill="#1e1e1e" stroke="#1e1e1e" stroke-width="0.25" textLength="36.6" lengthAdjust="spacingAndGlyphs">2010</text>
<text x="149.45" y="229.9" text-anchor="middle" font-family="Liberation Sans" font-size="16" fill="#1e1e1e" stroke="#1e1e1e" stroke-width="0.25" textLength="36.6" lengthAdjust="spacingAndGlyphs">2020</text>
<text x="222.60" y="229.9" text-anchor="middle" font-family="Liberation Sans" font-size="16" fill="#1e1e1e" stroke="#1e1e1e" stroke-width="0.25" textLength="36.6" lengthAdjust="spacingAndGlyphs">2030</text>
<text x="295.75" y="229.9" text-anchor="middle" font-family="Liberation Sans" font-size="16" fill="#1e1e1e" stroke="#1e1e1e" stroke-width="0.25" textLength="36.6" lengthAdjust="spacingAndGlyphs">2040</text>
<text x="368.90" y="229.9" text-anchor="middle" font-family="Liberation Sans" font-size="16" fill="#1e1e1e" stroke="#1e1e1e" stroke-width="0.25" textLength="36.6" lengthAdjust="spacingAndGlyphs">2050</text>
<text x="442.05" y="229.9" text-anchor="middle" font-family="Liberation Sans" font-size="16" fill="#1e1e1e" stroke="#1e1e1e" stroke-width="0.25" textLength="36.6" lengthAdjust="spacingAndGlyphs">2060</text>
<text x="515.20" y="229.9" text-anchor="middle" font-family="Liberation Sans" font-size="16" fill="#1e1e1e" stroke="#1e1e1e" stroke-width="0.25" textLength="36.6" lengthAdjust="spacingAndGlyphs">2070</text>
<text x="588.35" y="229.9" text-anchor="middle" font-family="Liberation Sans" font-size="16" fill="#1e1e1e" stroke="#1e1e1e" stroke-width="0.25" textLength="36.6" lengthAdjust="spacingAndGlyphs">2080</text>
<text x="661.50" y="229.9" text-anchor="middle" font-family="Liberation Sans" font-size="16" fill="#1e1e1e" stroke="#1e1e1e" stroke-width="0.25" textLength="36.6" lengthAdjust="spacingAndGlyphs">2090</text>
<line x1="721.6" y1="281.5" x2="757.2" y2="281.5" stroke="#4674b2" stroke-width="4.2" stroke-linecap="round"/>
<text x="760.5" y="287.30" font-family="Liberation Sans" font-size="15" fill="#2a2a2a" stroke="#2a2a2a" stroke-width="0.12" textLength="145.7" lengthAdjust="spacingAndGlyphs">Arbeid Oost-Europa</text>
<line x1="721.6" y1="314.1" x2="757.2" y2="314.1" stroke="#bb4747" stroke-width="4.2" stroke-linecap="round"/>
<text x="760.5" y="319.90" font-family="Liberation Sans" font-size="15" fill="#2a2a2a" stroke="#2a2a2a" stroke-width="0.12" textLength="160.5" lengthAdjust="spacingAndGlyphs">Arbeid overig westers</text>
<line x1="721.6" y1="346.9" x2="757.2" y2="346.9" stroke="#96b853" stroke-width="4.2" stroke-linecap="round"/>
<text x="760.5" y="352.70" font-family="Liberation Sans" font-size="15" fill="#2a2a2a" stroke="#2a2a2a" stroke-width="0.12" textLength="144.5" lengthAdjust="spacingAndGlyphs">Arbeid niet-westers</text>
<line x1="721.6" y1="379.9" x2="757.2" y2="379.9" stroke="#7a5f9e" stroke-width="4.2" stroke-linecap="round"/>
<text x="760.5" y="385.70" font-family="Liberation Sans" font-size="15" fill="#2a2a2a" stroke="#2a2a2a" stroke-width="0.12" textLength="35.8" lengthAdjust="spacingAndGlyphs">Asiel</text>
</svg>
</body></html>
